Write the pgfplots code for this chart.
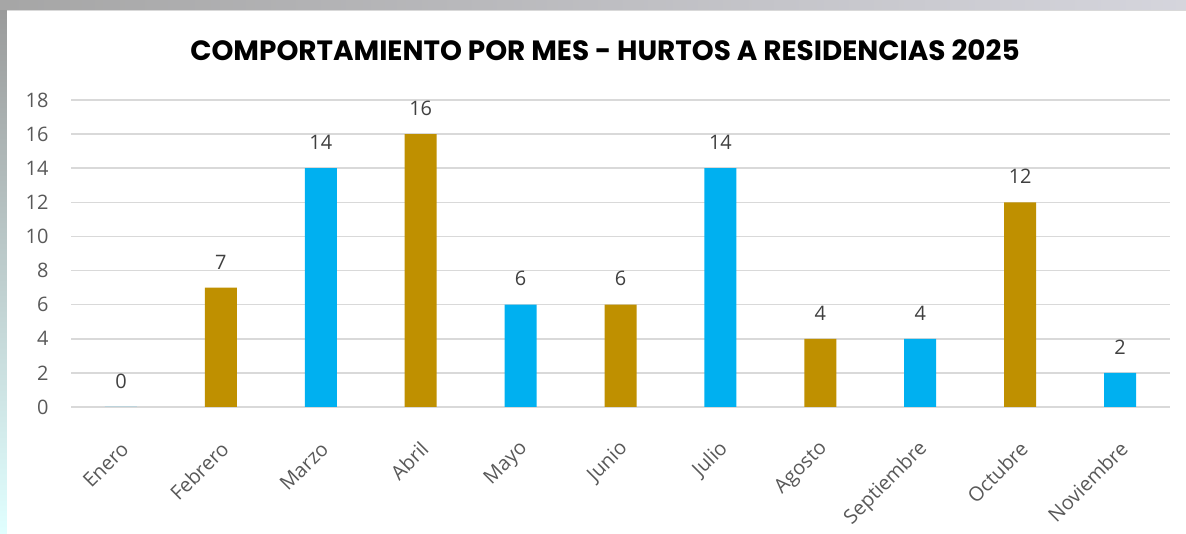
\documentclass[border=0pt]{standalone}
\usepackage{fontspec}
\setmainfont{Open Sans}
\newfontfamily\titlefont{Poppins}
\usepackage{pgfplots}
\pgfplotsset{compat=1.18}
\definecolor{gold}{HTML}{BF9000}
\definecolor{cyanb}{HTML}{00B0F0}
\definecolor{gridc}{HTML}{D9D9D9}
\definecolor{txt}{HTML}{595959}
\definecolor{lbl}{HTML}{404040}
\begin{document}
\begin{tikzpicture}[x=1bp,y=1bp]
\useasboundingbox (0,0) rectangle (1186,534);
\shade[top color=gray!80, bottom color=cyan!12!white] (0,0) rectangle (1186,534);
\shade[left color=gray!70, right color=blue!10!gray!30] (0,524) rectangle (1186,534);
\fill[white] (7,0) rectangle (1186,524);
\draw[gridc, line width=1.2bp] (7,523.5) -- (1186,523.5);
\node[font=\titlefont\bfseries\fontsize{28}{32}\selectfont, anchor=center] at (605,484) {COMPORTAMIENTO POR MES - HURTOS A RESIDENCIAS 2025};
\begin{axis}[
  at={(71bp,127bp)}, anchor=south west,
  scale only axis, width=1099bp, height=307bp,
  xmin=-0.5, xmax=10.5, ymin=0, ymax=18,
  axis lines=left, axis line style={draw=none},
  ymajorgrids, grid style={gridc, line width=1.5bp},
  ytick={0,2,...,18},
  xtick={0,...,10},
  xticklabels={Enero,Febrero,Marzo,Abril,Mayo,Junio,Julio,Agosto,Septiembre,Octubre,Noviembre},
  xticklabel style={rotate=45, anchor=east, font=\fontsize{20}{24}\selectfont, text=txt, xshift=-21bp, yshift=-30bp},
  yticklabel style={font=\fontsize{20}{24}\selectfont, text=txt, xshift=-19bp},
  /pgf/number format/assume math mode=true,
  major tick length=0pt,
  ybar, bar width=32bp, bar shift=0pt,
  nodes near coords,
  every node near coord/.append style={font=\fontsize{20}{24}\selectfont, text=lbl, yshift=15bp},
  clip=false,
]
\addplot[draw=none, fill=gold] coordinates {(1,7) (3,16) (5,6) (7,4) (9,12)};
\addplot[draw=none, fill=cyanb] coordinates {(0,0) (2,14) (4,6) (6,14) (8,4) (10,2)};
\end{axis}
\end{tikzpicture}
\end{document}
